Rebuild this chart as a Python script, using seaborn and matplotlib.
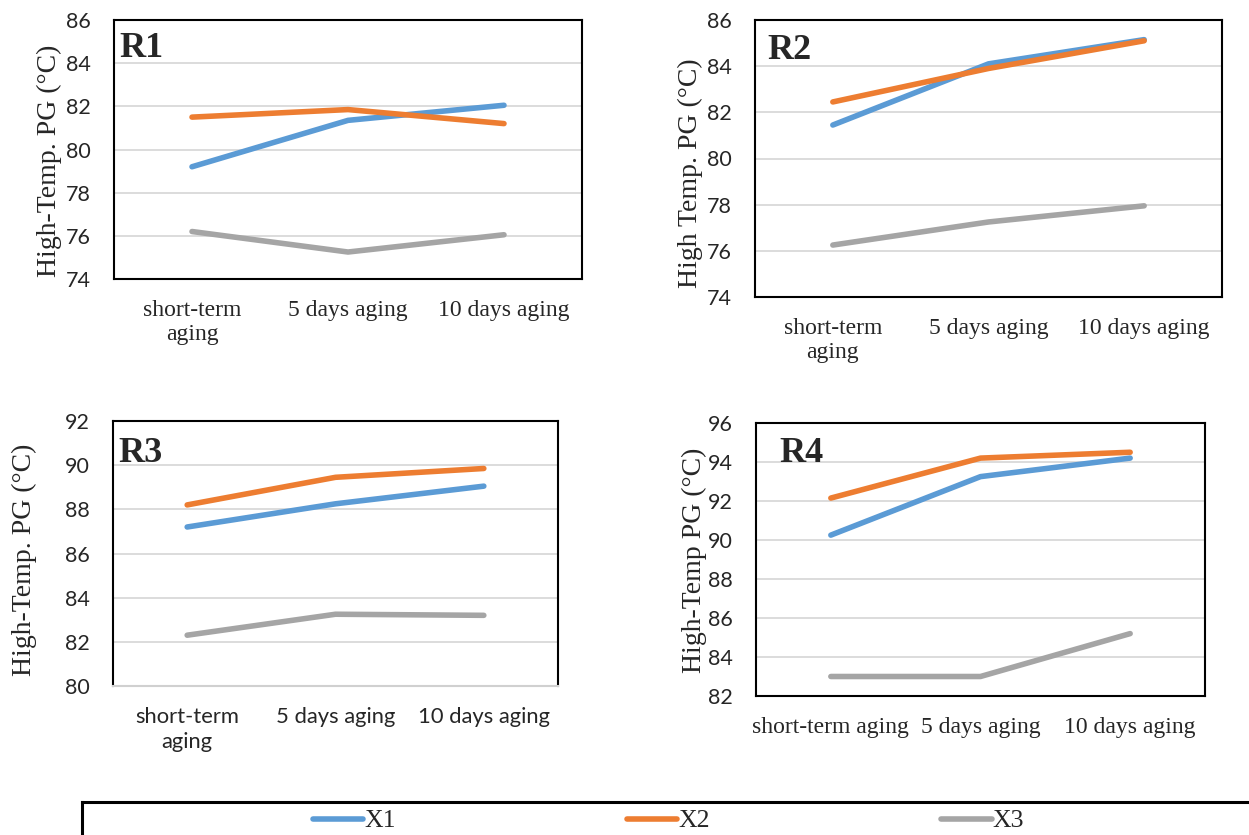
import pandas as pd
import matplotlib
matplotlib.use("Agg")
import matplotlib.pyplot as plt
import seaborn as sns

# categories / series
stages = ["short-term aging", "5 days aging", "10 days aging"]
series = ["X1", "X2", "X3"]

# values
r1_x1 = [79.2, 81.35, 82.05]
r1_x2 = [81.5, 81.85, 81.2]
r1_x3 = [76.2, 75.25, 76.05]

r2_x1 = [81.45, 84.1, 85.15]
r2_x2 = [82.45, 83.9, 85.1]
r2_x3 = [76.25, 77.25, 77.95]

r3_x1 = [87.2, 88.25, 89.05]
r3_x2 = [88.2, 89.45, 89.85]
r3_x3 = [82.3, 83.25, 83.2]

r4_x1 = [90.25, 93.25, 94.2]
r4_x2 = [92.15, 94.2, 94.5]
r4_x3 = [83.0, 83.0, 85.2]

sns.set_theme(style="white")
plt.rcParams['font.family'] = ['Liberation Serif', 'DejaVu Sans']

palette = {"X1": "#5B9BD5", "X2": "#ED7D31", "X3": "#A5A5A5"}
SANS = ['Lato', 'DejaVu Sans']
SERIF = ['Liberation Serif', 'DejaVu Sans']

W, H = 1249, 835
fig = plt.figure(figsize=(W / 100, H / 100), dpi=100)


def frame(x0, y0, x1, y1):
    # pixel box -> figure fraction
    return [x0 / W, 1 - y1 / H, (x1 - x0) / W, (y1 - y0) / H]


def long_df(a, b, c):
    rows = []
    for name, vals in zip(series, [a, b, c]):
        for st, v in zip(stages, vals):
            rows.append({"stage": st, "value": v, "series": name})
    return pd.DataFrame(rows)


two_line = ["short-term\naging", "5 days aging", "10 days aging"]
panels = [
    dict(box=(114, 20, 582, 279), data=(r1_x1, r1_x2, r1_x3), ylim=(74, 86),
         tag="R1", tagpos=(0.011, 0.954), ylabel="High-Temp. PG (\u00b0C)",
         labcoord=(-0.111, 0.456), xfont=SERIF, xsize=17, xls=1.2,
         xlabels=two_line, bottom="black"),
    dict(box=(755, 20, 1222, 297), data=(r2_x1, r2_x2, r2_x3), ylim=(74, 86),
         tag="R2", tagpos=(0.026, 0.95), ylabel="High Temp. PG (\u00b0C)",
         labcoord=(-0.111, 0.448), xfont=SERIF, xsize=17, xls=1.2,
         xlabels=two_line, bottom="black"),
    dict(box=(113, 421, 558, 686), data=(r3_x1, r3_x2, r3_x3), ylim=(80, 92),
         tag="R3", tagpos=(0.013, 0.94), ylabel="High-Temp. PG (\u00b0C)",
         labcoord=(-0.171, 0.475), xfont=SANS, xsize=15.8, xls=1.35,
         xlabels=two_line, bottom="#D0D0D0"),
    dict(box=(756, 423, 1205, 696), data=(r4_x1, r4_x2, r4_x3), ylim=(82, 96),
         tag="R4", tagpos=(0.053, 0.949), ylabel="High-Temp PG (\u00b0C)",
         labcoord=(-0.109, 0.498), xfont=SERIF, xsize=17, xls=1.2,
         xlabels=["short-term aging", "5 days aging", "10 days aging"], bottom="black"),
]

handles = None
for p in panels:
    ax = fig.add_axes(frame(*p["box"]))
    df = long_df(*p["data"])
    sns.lineplot(data=df, x="stage", y="value", hue="series", palette=palette,
                 linewidth=4.0, sort=False, ax=ax)
    if handles is None:
        handles, labels = ax.get_legend_handles_labels()
    ax.get_legend().remove()

    lo, hi = p["ylim"]
    ax.set_ylim(lo, hi)
    ax.set_xlim(-0.5, 2.5)
    ax.set_yticks(range(lo, hi + 1, 2))
    ax.set_yticklabels([str(v) for v in range(lo, hi + 1, 2)], family=SANS, fontsize=15.5)
    ax.set_xticks(range(len(stages)))
    ax.set_xticklabels(p["xlabels"], family=p["xfont"], fontsize=p["xsize"],
                       linespacing=p["xls"])
    ax.tick_params(axis="both", length=0)
    ax.tick_params(axis="y", pad=16.5)
    ax.tick_params(axis="x", pad=15)
    ax.yaxis.grid(True, color="#D9D9D9", linewidth=1.3)
    ax.set_axisbelow(True)
    for s in ax.spines.values():
        s.set_color("black")
        s.set_linewidth(1.5)
        s.set_visible(True)
    ax.spines["bottom"].set_color(p["bottom"])
    ax.set_xlabel("")
    ax.set_ylabel(p["ylabel"], family=SERIF, fontsize=20)
    ax.yaxis.set_label_coords(*p["labcoord"])
    ax.text(p["tagpos"][0], p["tagpos"][1], p["tag"], transform=ax.transAxes,
            ha="left", va="top", fontsize=26, fontweight="bold", family=SERIF)

# legend box at the bottom, cut off by the page edge
lax = fig.add_axes([82 / W, -0.1, 1.0, 0.1 + (H - 802) / H])
lax.set_xticks([])
lax.set_yticks([])
for s in lax.spines.values():
    s.set_color("black")
    s.set_linewidth(2.2)
leg = fig.legend(handles, labels, loc="center left", bbox_to_anchor=(290 / W, 1 - 821 / H),
                 ncol=3, frameon=False, handlelength=1.95, handletextpad=0.05,
                 columnspacing=9.0, prop={"family": SERIF, "size": 18.5})
for h in leg.get_lines():
    h.set_linewidth(4.0)

fig.savefig("out.png", dpi=100)
